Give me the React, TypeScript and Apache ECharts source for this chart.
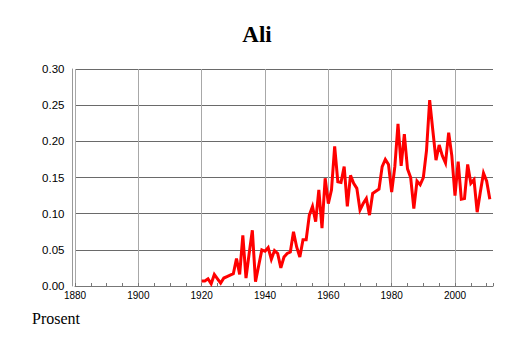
import React, { useEffect, useRef } from "react";
import * as echarts from "echarts";

const title = "Ali";
const yLabel = "Prosent";
const years: number[] = [];
for (let y = 1920; y <= 2011; y++) years.push(y);
const values: number[] = [
  0.007, 0.007, 0.010, 0.003, 0.016, 0.010, 0.004, 0.011, 0.013, 0.015,
  0.017, 0.038, 0.016, 0.070, 0.011, 0.045, 0.077, 0.006, 0.028, 0.050,
  0.048, 0.053, 0.037, 0.049, 0.045, 0.025, 0.040, 0.045, 0.047, 0.075,
  0.054, 0.040, 0.064, 0.064, 0.098, 0.110, 0.089, 0.133, 0.080, 0.149,
  0.114, 0.133, 0.193, 0.144, 0.143, 0.165, 0.110, 0.153, 0.142, 0.135,
  0.105, 0.114, 0.121, 0.098, 0.128, 0.131, 0.134, 0.165, 0.175, 0.168,
  0.130, 0.165, 0.224, 0.166, 0.210, 0.162, 0.150, 0.107, 0.145, 0.140,
  0.150, 0.187, 0.257, 0.215, 0.174, 0.195, 0.180, 0.170, 0.212, 0.180,
  0.125, 0.172, 0.120, 0.121, 0.168, 0.142, 0.147, 0.102, 0.130, 0.156,
  0.145, 0.120,
];
const xMin = 1880;
const xMax = 2012;
const xInterval = 20;
const yMin = 0;
const yMax = 0.3;
const yInterval = 0.05;

export default function App() {
  const ref = useRef<HTMLDivElement>(null);
  useEffect(() => {
    if (!ref.current) return;
    const chart = echarts.init(ref.current, null, { renderer: "svg" });
    const xGridColors: string[] = [];
    for (let v = xMin; v <= xMax; v += xInterval) xGridColors.push("#a8a8a8");
    xGridColors.push("rgba(0,0,0,0)");
    chart.setOption({
      animation: false,
      backgroundColor: "#ffffff",
      grid: { left: 75, right: 21, top: 69, bottom: 57, containLabel: false },
      xAxis: {
        type: "value",
        min: xMin,
        max: xMax,
        interval: xInterval,
        axisLine: { show: true, lineStyle: { color: "#777", width: 1 } },
        axisTick: { show: true, inside: true, length: 3, lineStyle: { color: "#777" } },
        minorTick: { show: true, splitNumber: 4, length: 3, lineStyle: { color: "#777" } },
        axisLabel: {
          color: "#000",
          fontSize: 10,
          fontFamily: "Liberation Sans",
          margin: 4,
          showMaxLabel: false,
          formatter: (v: number) => String(v),
        },
        splitLine: { show: true, lineStyle: { color: xGridColors, width: 1 } },
      },
      yAxis: {
        type: "value",
        min: yMin,
        max: yMax,
        interval: yInterval,
        offset: 2.5,
        axisLine: { show: true, lineStyle: { color: "#999", width: 1 } },
        axisTick: { show: false },
        axisLabel: {
          color: "#000",
          fontSize: 11.5,
          fontFamily: "Liberation Sans",
          margin: 8,
          formatter: (v: number) => v.toFixed(2),
        },
        splitLine: { show: true, lineStyle: { color: "#6a6a6a", width: 1 } },
      },
      series: [
        {
          type: "line",
          data: years.map((y, i) => [y, values[i]]),
          symbol: "none",
          lineStyle: { color: "#ff0000", width: 3, join: "miter", miterLimit: 10 },
          itemStyle: { color: "#ff0000" },
        },
      ],
      graphic: [
        {
          type: "text",
          x: 257,
          y: 34,
          style: {
            text: title,
            font: "bold 23px 'Liberation Serif'",
            fill: "#000",
            textAlign: "center",
            textVerticalAlign: "middle",
          },
        },
        {
          type: "text",
          x: 32,
          y: 318,
          style: {
            text: yLabel,
            font: "16px 'Liberation Serif'",
            fill: "#000",
            textAlign: "left",
            textVerticalAlign: "middle",
          },
        },
      ],
    });
    return () => chart.dispose();
  }, []);
  return (
    <div
      ref={ref}
      style={{ position: "fixed", left: 0, top: 0, width: 514, height: 343, background: "#fff" }}
    />
  );
}
